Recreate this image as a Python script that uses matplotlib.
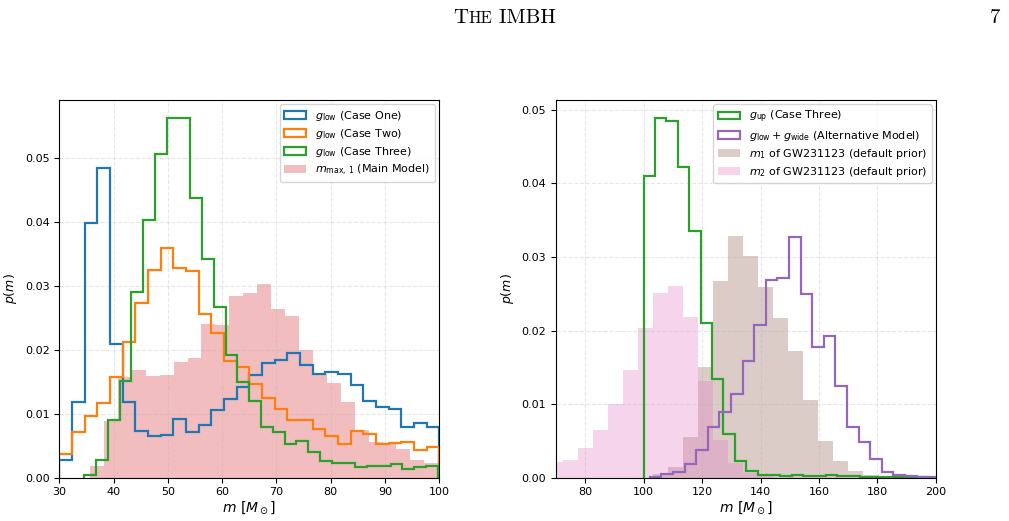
import numpy as np
import matplotlib
matplotlib.use("Agg")
import matplotlib.pyplot as plt
from matplotlib.offsetbox import TextArea, HPacker, AnchoredOffsetbox

# ---- left panel: lower-gap posteriors (density per bin) ----
case_one_edges = np.linspace(30.0, 100.0, 31)
case_one = [0.0028, 0.0118, 0.0399, 0.0484, 0.0210, 0.0119, 0.0073, 0.0066, 0.0067, 0.0092,
            0.0071, 0.0083, 0.0106, 0.0123, 0.0142, 0.0160, 0.0179, 0.0184, 0.0195, 0.0176,
            0.0163, 0.0165, 0.0162, 0.0145, 0.0120, 0.0111, 0.0107, 0.0080, 0.0086, 0.0080]

case_two_edges = np.linspace(30.0, 100.0, 31)
case_two = [0.0037, 0.0072, 0.0097, 0.0117, 0.0158, 0.0213, 0.0273, 0.0325, 0.0360, 0.0328,
            0.0323, 0.0256, 0.0227, 0.0183, 0.0173, 0.0146, 0.0125, 0.0107, 0.0091, 0.0090,
            0.0076, 0.0066, 0.0053, 0.0073, 0.0068, 0.0052, 0.0055, 0.0056, 0.0044, 0.0048]

case_three_edges = np.linspace(34.6, 99.7, 31)
case_three = [0.0005, 0.0028, 0.0091, 0.0152, 0.0290, 0.0403, 0.0506, 0.0563, 0.0563, 0.0438,
              0.0343, 0.0267, 0.0192, 0.0150, 0.0120, 0.0080, 0.0072, 0.0052, 0.0057, 0.0040,
              0.0026, 0.0023, 0.0023, 0.0016, 0.0019, 0.0019, 0.0021, 0.0014, 0.0016, 0.0018]

mmax_edges = np.linspace(35.65, 99.8, 26)
mmax = [0.0019, 0.0089, 0.0158, 0.0168, 0.0159, 0.0160, 0.0181, 0.0187, 0.0240, 0.0239,
        0.0284, 0.0289, 0.0303, 0.0264, 0.0253, 0.0200, 0.0163, 0.0148, 0.0119, 0.0075,
        0.0056, 0.0055, 0.0045, 0.0028, 0.0023]

# ---- right panel: upper-gap posteriors and GW231123 masses ----
gup_edges = np.linspace(100.0, 217.0, 31)
gup = [0.0410, 0.0489, 0.0485, 0.0423, 0.0335, 0.0210, 0.0134, 0.0059, 0.0023, 0.0009,
       0.0004, 0.0003, 0.0002, 0.0003, 0.0002, 0.0002, 0.0003, 0.0002, 0.0002, 0.0001,
       0.0001, 0.0001, 0.0001, 0.0001, 0.0001, 0.0000, 0.0000, 0.0000, 0.0000, 0.0000]

alt_edges = np.linspace(102.1, 201.3, 26)
alt = [0.0001, 0.0005, 0.0008, 0.0018, 0.0038, 0.0069, 0.0089, 0.0114, 0.0158, 0.0208,
       0.0269, 0.0271, 0.0327, 0.0250, 0.0178, 0.0193, 0.0124, 0.0069, 0.0048, 0.0026,
       0.0008, 0.0004, 0.0002, 0.0001, 0.0001]

gw_edges = np.linspace(67.2, 185.5, 24)
m1 = [0.0, 0.0, 0.0, 0.0, 0.0, 0.0, 0.0, 0.0005, 0.0015, 0.0056,
      0.0151, 0.0267, 0.0328, 0.0302, 0.0259, 0.0217, 0.0172, 0.0105, 0.0050, 0.0023,
      0.0009, 0.0004, 0.0001]
m2 = [0.0022, 0.0024, 0.0040, 0.0065, 0.0100, 0.0146, 0.0204, 0.0251, 0.0261, 0.0218,
      0.0131, 0.0051, 0.0020, 0.0006, 0.0002, 0.0, 0.0, 0.0, 0.0, 0.0,
      0.0, 0.0, 0.0]


def centers(edges):
    return 0.5 * (edges[1:] + edges[:-1])


fig = plt.figure(figsize=(10.09, 5.21), dpi=100)
ax1 = fig.add_axes([0.0588, 0.0831, 0.3766, 0.725])
ax2 = fig.add_axes([0.551, 0.0831, 0.3766, 0.725])

lw = 1.6
ax1.hist(centers(case_one_edges), bins=case_one_edges, weights=case_one, histtype="step",
         color="C0", lw=lw, label=r"$g_{\rm low}$ (Case One)")
ax1.hist(centers(case_two_edges), bins=case_two_edges, weights=case_two, histtype="step",
         color="C1", lw=lw, label=r"$g_{\rm low}$ (Case Two)")
ax1.hist(centers(case_three_edges), bins=case_three_edges, weights=case_three, histtype="step",
         color="C2", lw=lw, label=r"$g_{\rm low}$ (Case Three)")
ax1.hist(centers(mmax_edges), bins=mmax_edges, weights=mmax, color="C3", alpha=0.3,
         label=r"$m_{\rm max,\,1}$ (Main Model)")
ax1.set_xlim(30, 100)

ax2.hist(centers(gup_edges), bins=gup_edges, weights=gup, histtype="step",
         color="C2", lw=lw, label=r"$g_{\rm up}$ (Case Three)")
ax2.hist(centers(alt_edges), bins=alt_edges, weights=alt, histtype="step",
         color="C4", lw=lw, label=r"$g_{\rm low} + g_{\rm wide}$ (Alternative Model)")
ax2.hist(centers(gw_edges), bins=gw_edges, weights=m1, color="C5", alpha=0.3,
         label=r"$m_1$ of GW231123 (default prior)")
ax2.hist(centers(gw_edges), bins=gw_edges, weights=m2, color="C6", alpha=0.3,
         label=r"$m_2$ of GW231123 (default prior)")
ax2.set_xlim(70, 200)

for ax in (ax1, ax2):
    ax.set_ylim(bottom=0)
    ax.grid(True, ls="--", alpha=0.3)
    ax.tick_params(labelsize=8)
    ax.set_xlabel(r"$m~[M_\odot]$", fontsize=10, labelpad=1)
    ax.set_ylabel(r"$p(m)$", fontsize=9)
    ax.legend(loc="upper right", fontsize=8, labelspacing=0.35, borderaxespad=0.4)

# page header
cm = dict(family="cmr10", size=15)
cm_small = dict(family="cmr10", size=12)
header = HPacker(children=[TextArea("T", textprops=cm), TextArea("HE", textprops=cm_small),
                           TextArea(" IMBH", textprops=cm)],
                 align="baseline", pad=0, sep=0)
fig.add_artist(AnchoredOffsetbox(loc="center", child=header, frameon=False, pad=0, borderpad=0,
                                 bbox_to_anchor=(0.5, 0.966), bbox_transform=fig.transFigure))
fig.text(0.9865, 0.966, "7", family="cmr10", size=15, ha="center", va="center")

fig.savefig("out.png", dpi=100)
